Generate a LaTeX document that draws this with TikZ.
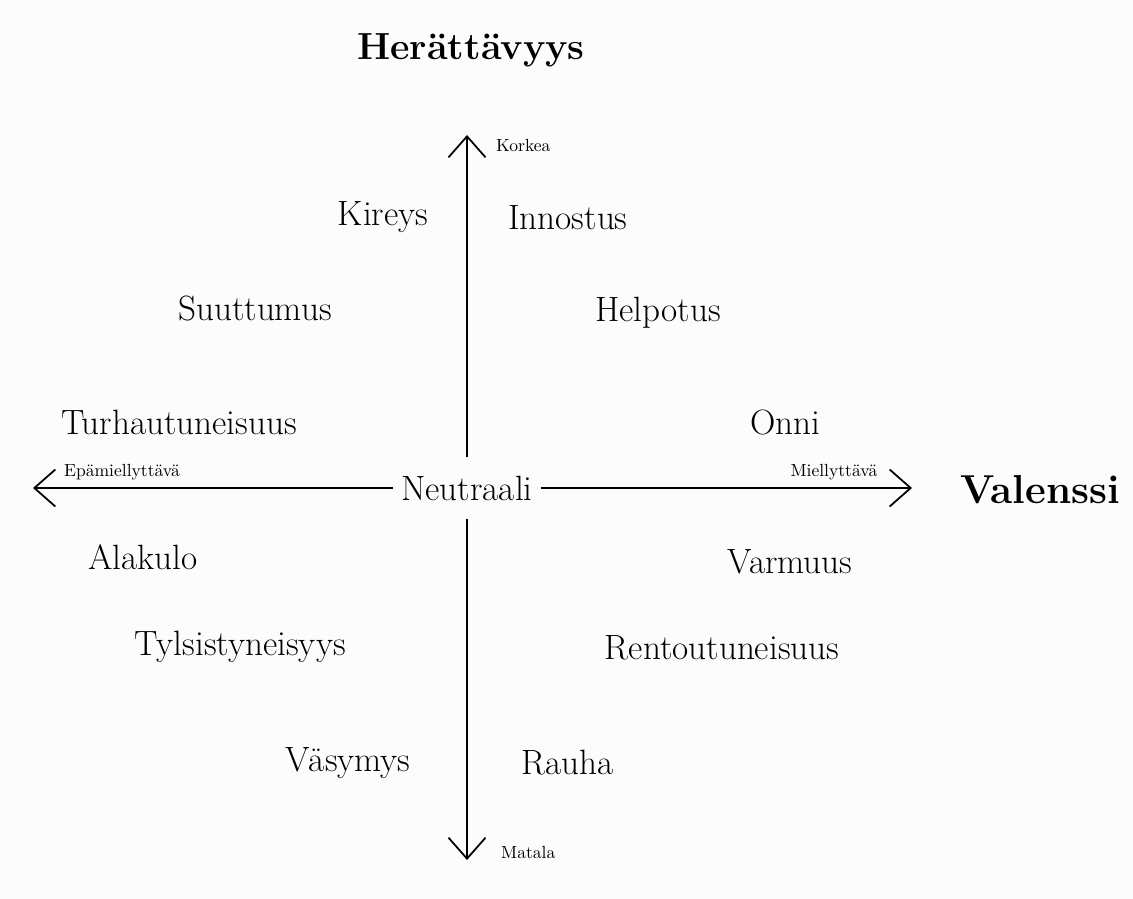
\documentclass[tikz,border=0pt]{standalone}
\usepackage{tikz}
\usetikzlibrary{arrows.meta}

\tikzset{
  tunne/.style={font=\fontsize{20}{24}\selectfont},
  pieni/.style={font=\fontsize{10}{12}\selectfont},
  otsikko/.style={font=\fontsize{21.5}{26}\selectfont\bfseries},
  akseli/.style={line width=1pt,-{Straight Barb[length=0.42cm,width=0.74cm,line width=1pt]}}
}

\begin{document}
\begin{tikzpicture}[x=0.02cm,y=-0.02cm]
        \useasboundingbox[fill=white!99!black] (0,0) rectangle (1133,899);

        \node[tunne,inner sep=0pt,minimum width=2.94cm,minimum height=1.22cm] (N) at (467,488) {Neutraali};
        \coordinate (YL) at (467,135);
        \coordinate (AL) at (467,860);
        \coordinate (VA) at (33,488);
        \coordinate (OI) at (912,488);

        \draw[akseli] (N) -- (YL);
        \draw[akseli] (N) -- (AL);
        \draw[akseli] (N) -- (VA);
        \draw[akseli] (N) -- (OI);

        \node[otsikko] (H) at (471,50) {Herättävyys};
        \node[otsikko,font=\fontsize{23}{27}\selectfont\bfseries] (V) at (1040,490) {Valenssi};

        \node[pieni,anchor=west] (K) at (490,145) {Korkea};
        \node[pieni,anchor=west] (M) at (495,852) {Matala};
        \node[pieni] (E) at (122,472) {Epämiellyttävä};
        \node[pieni] (P) at (834,472) {Miellyttävä};

        \node[tunne] (T1) at (383,217) {Kireys};
        \node[tunne] (T2) at (568,218) {Innostus};
        \node[tunne] (T3) at (255,308) {Suuttumus};
        \node[tunne] (T4) at (658,313) {Helpotus};
        \node[tunne] (T5) at (179,422) {Turhautuneisuus};
        \node[tunne] (T6) at (785,422) {Onni};
        \node[tunne] (T7) at (143,557) {Alakulo};
        \node[tunne] (T8) at (790,562) {Varmuus};
        \node[tunne] (T9) at (240,647) {Tylsistyneisyys};
        \node[tunne] (T10) at (722,648) {Rentoutuneisuus};
        \node[tunne] (T11) at (348,763) {Väsymys};
        \node[tunne] (T12) at (568,763) {Rauha};
      \end{tikzpicture}
\end{document}
